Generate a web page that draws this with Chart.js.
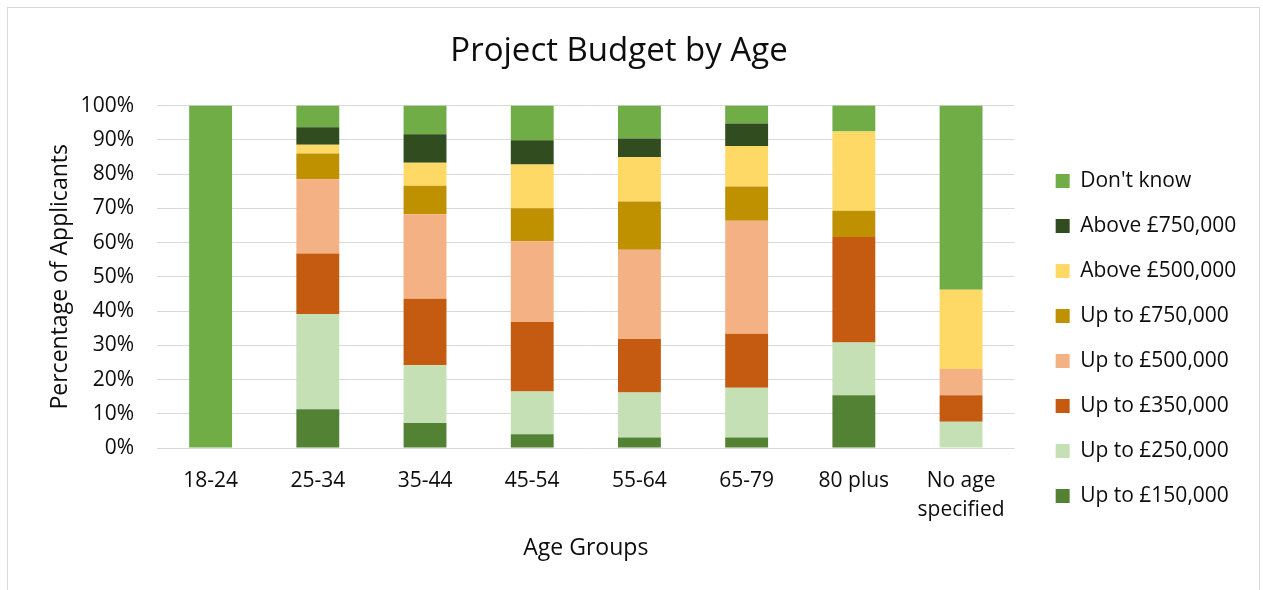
<!DOCTYPE html>
<html>
<head>
<meta charset="utf-8">
<script src="https://cdn.jsdelivr.net/npm/chart.js@4.4.1/dist/chart.umd.min.js"></script>
<style>
  html, body { margin: 0; padding: 0; background: #fff; overflow: hidden; }
  #wrap { position: relative; width: 1263px; height: 590px; }
  #frame { position: absolute; left: 7px; top: 7px; width: 1251px; height: 700px; border: 1px solid #d9d9d9; pointer-events: none; }
  canvas { position: absolute; left: 0; top: 0; }
</style>
</head>
<body>
<div id="wrap">
  <div id="frame"></div>
  <canvas id="chart" width="1263" height="590"></canvas>
</div>
<script>
// categories (age groups)
const ageGroups = ["18-24", "25-34", "35-44", "45-54", "55-64", "65-79", "80 plus", ["No age", "specified"]];

// % of applicants per budget band, bottom of the stack first
const upTo150k   = [0, 11.3, 7.3, 4.0, 3.1, 3.1, 15.4, 0];
const upTo250k   = [0, 27.8, 16.9, 12.5, 13.1, 14.5, 15.4, 7.7];
const upTo350k   = [0, 17.7, 19.4, 20.3, 15.6, 15.8, 30.8, 7.7];
const upTo500k   = [0, 21.7, 24.7, 23.6, 26.1, 33.0, 0, 7.7];
const upTo750k   = [0, 7.5, 8.3, 9.6, 14.1, 10.0, 7.7, 0];
const above500k  = [0, 2.6, 6.7, 12.8, 13.0, 11.8, 23.1, 23.1];
const above750k  = [0, 5.1, 8.3, 7.1, 5.4, 6.6, 0, 0];
const dontKnow   = [100, 6.3, 8.4, 10.1, 9.6, 5.2, 7.7, 53.8];

const FONT = "'Open Sans', 'Noto Sans', sans-serif";
const TXT = "#0d0d0d";

function band(label, data, color) {
    return {
        label: label,
        data: data,
        backgroundColor: color,
        borderWidth: 0,
        barPercentage: 0.4,
        categoryPercentage: 1.0
    };
}

const ctx = document.getElementById("chart").getContext("2d");

new Chart(ctx, {
    type: "bar",
    data: {
        labels: ageGroups,
        datasets: [
            band("Up to £150,000", upTo150k, "#548235"),
            band("Up to £250,000", upTo250k, "#C5E0B4"),
            band("Up to £350,000", upTo350k, "#C55A11"),
            band("Up to £500,000", upTo500k, "#F4B183"),
            band("Up to £750,000", upTo750k, "#BF9000"),
            band("Above £500,000", above500k, "#FFD966"),
            band("Above £750,000", above750k, "#314D1F"),
            band("Don't know", dontKnow, "#70AD47")
        ]
    },
    options: {
        responsive: false,
        animation: false,
        layout: { padding: { left: 0, right: 25, top: 0, bottom: 28 } },
        scales: {
            x: {
                stacked: true,
                grid: { display: false, drawTicks: false },
                border: { display: false },
                ticks: {
                    color: TXT,
                    padding: 19,
                    maxRotation: 0,
                    font: { family: FONT, size: 21, lineHeight: 1.38 }
                },
                title: {
                    display: true,
                    text: "Age Groups",
                    color: TXT,
                    padding: { top: 12, bottom: 0 },
                    font: { family: FONT, size: 23 }
                },
                afterFit: s => { s.height = 114; }
            },
            y: {
                stacked: true,
                min: 0,
                max: 100,
                grid: { color: "#d9d9d9", lineWidth: 1, drawTicks: false },
                border: { display: false },
                ticks: {
                    stepSize: 10,
                    color: TXT,
                    padding: 23,
                    font: { family: FONT, size: 21 },
                    callback: v => v + "%"
                },
                title: {
                    display: true,
                    text: "Percentage of Applicants",
                    color: TXT,
                    padding: { top: 47, bottom: 0 },
                    font: { family: FONT, size: 23 }
                },
                afterFit: s => { s.width = 157; }
            },
            // empty axis that only keeps a gap between plot and legend
            gap: {
                type: "linear",
                position: "right",
                display: true,
                grid: { display: false, drawTicks: false },
                border: { display: false },
                ticks: { display: false },
                afterFit: s => { s.width = 17; }
            }
        },
        plugins: {
            title: {
                display: true,
                text: "Project Budget by Age",
                color: TXT,
                padding: { top: 32, bottom: 34 },
                font: { family: FONT, size: 33, weight: "normal" }
            },
            legend: {
                position: "right",
                align: "start",
                reverse: true,
                title: { display: true, text: "", padding: { top: 132, bottom: 0 }, font: { size: 12 } },
                labels: {
                    color: TXT,
                    boxWidth: 14,
                    boxHeight: 14,
                    padding: 24,
                    font: { family: FONT, size: 21 }
                }
            },
            tooltip: { enabled: false }
        }
    }
});
</script>
</body>
</html>
